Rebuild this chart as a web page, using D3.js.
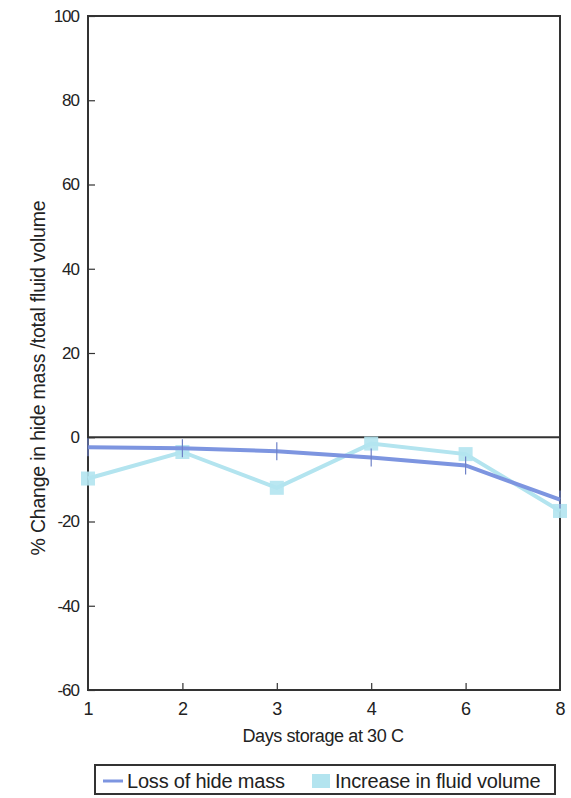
<!DOCTYPE html>
<html lang="en">
<head>
<meta charset="UTF-8" />
<title>Hide mass / fluid volume</title>
<script src="https://d3js.org/d3.v7.min.js"></script>
<style>
body { margin: 0; padding: 0; background: #fff; font-family: "Liberation Sans", Arial, sans-serif; }
svg { display: block; }
</style>
</head>
<body>
<svg width="571" height="798"></svg>
<script>
// data
const days = ["1", "2", "3", "4", "6", "8"];
const hideMass = [-2.4, -2.6, -3.3, -4.8, -6.7, -14.8];
const fluidVolume = [-9.8, -3.5, -12, -1.5, -4, -17.5];
const yTicks = [-60, -40, -20, 0, 20, 40, 60, 80, 100];

const svg = d3.select("svg");
const margin = { top: 16, right: 8, bottom: 108, left: 88 };
const width = 571 - margin.left - margin.right;
const height = 798 - margin.top - margin.bottom;
const font = "'Liberation Sans', Arial, sans-serif";

const g = svg.append("g").attr("transform", `translate(${margin.left},${margin.top})`);

const x = d3.scalePoint().domain(days).range([0, width - 3]);
const y = d3.scaleLinear().domain([-60, 100]).range([height, 0]);

// frame
g.append("rect")
    .attr("width", width - 3).attr("height", height)
    .attr("fill", "none").attr("stroke", "#333").attr("stroke-width", 2);

// zero line
g.append("line")
    .attr("x1", 0).attr("x2", width - 3)
    .attr("y1", y(0)).attr("y2", y(0))
    .attr("stroke", "#333").attr("stroke-width", 2);

const yAxis = g.append("g")
    .call(d3.axisLeft(y).tickValues(yTicks).tickFormat(d => String(d))
        .tickSize(-7).tickPadding(9));
yAxis.select(".domain").remove();
yAxis.selectAll("line").attr("stroke", "#333").attr("stroke-width", 1.2);
yAxis.selectAll("text").attr("font-size", 17).attr("fill", "#222")
    .attr("letter-spacing", -1).attr("font-family", font);

const xAxis = g.append("g").attr("transform", `translate(0,${height})`)
    .call(d3.axisBottom(x).tickSize(-7).tickPadding(12));
xAxis.select(".domain").remove();
xAxis.selectAll("line").attr("stroke", "#333").attr("stroke-width", 1.2)
    .filter((d, i) => i === 0 || i === days.length - 1).remove();
xAxis.selectAll("text").attr("font-size", 18).attr("fill", "#222")
    .attr("font-family", font);

// axis titles
svg.append("text")
    .attr("x", 323).attr("y", 742)
    .attr("text-anchor", "middle").attr("font-size", 18).attr("fill", "#222")
    .attr("letter-spacing", -0.4).attr("font-family", font)
    .text("Days storage at 30 C");

svg.append("text")
    .attr("transform", `translate(45,378) rotate(-90)`)
    .attr("text-anchor", "middle").attr("font-size", 19.5).attr("fill", "#222")
    .attr("letter-spacing", -0.2).attr("font-family", font)
    .text("% Change in hide mass /total fluid volume");

const cHide = "#7d95e0";
const cFluid = "#b3e4ef";

const line = d3.line().x((d, i) => x(days[i])).y(d => y(d));

// fluid volume
g.append("path").datum(fluidVolume)
    .attr("d", line).attr("fill", "none")
    .attr("stroke", cFluid).attr("stroke-width", 4);
g.selectAll(".sq").data(fluidVolume).enter().append("rect")
    .attr("x", (d, i) => x(days[i]) - 7).attr("y", d => y(d) - 7)
    .attr("width", 14).attr("height", 14)
    .attr("fill", cFluid).attr("opacity", 0.9);

// hide mass
g.append("path").datum(hideMass)
    .attr("d", line).attr("fill", "none")
    .attr("stroke", cHide).attr("stroke-width", 4);
const marks = g.selectAll(".st").data(hideMass).enter().append("g")
    .attr("transform", (d, i) => `translate(${x(days[i])},${y(d)})`);
marks.append("path")
    .attr("d", d3.symbol().type(d3.symbolTimes).size(70))
    .attr("fill", "#6f82c8");
marks.append("line").attr("y1", -9).attr("y2", 9)
    .attr("stroke", "#6f82c8").attr("stroke-width", 1.2);

// legend
const lg = svg.append("g").attr("transform", "translate(95,765)");
lg.append("rect").attr("width", 460).attr("height", 29)
    .attr("fill", "#fff").attr("stroke", "#333").attr("stroke-width", 2);
lg.append("line").attr("x1", 8).attr("x2", 28).attr("y1", 16).attr("y2", 16)
    .attr("stroke", cHide).attr("stroke-width", 3);
lg.append("path").attr("d", d3.symbol().type(d3.symbolTimes).size(30))
    .attr("transform", "translate(18,16)").attr("fill", "#8b9ad6");
lg.append("text").attr("x", 32).attr("y", 23).attr("font-size", 20)
    .attr("letter-spacing", -0.2).attr("fill", "#222").attr("font-family", font)
    .text("Loss of hide mass");
lg.append("rect").attr("x", 217).attr("y", 9).attr("width", 18).attr("height", 14)
    .attr("fill", cFluid);
lg.append("text").attr("x", 240).attr("y", 23).attr("font-size", 20)
    .attr("letter-spacing", -0.2).attr("fill", "#222").attr("font-family", font)
    .text("Increase in fluid volume");
</script>
</body>
</html>
